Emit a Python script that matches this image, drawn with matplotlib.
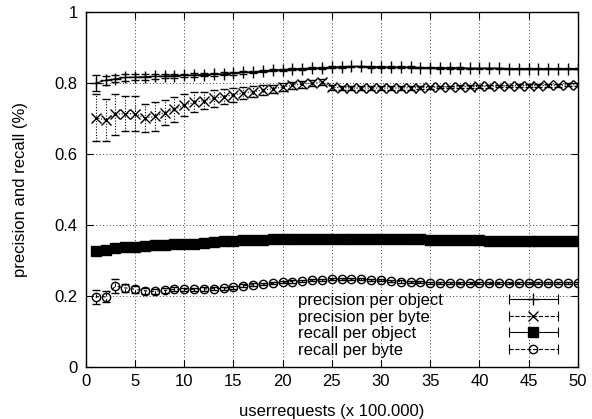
#precision and recall against number of user requests, gnuplot look
import matplotlib
matplotlib.use('Agg')
import matplotlib.pyplot as plt
from matplotlib.lines import Line2D
from matplotlib.legend_handler import HandlerBase

plt.rcParams['font.family'] = ['Liberation Sans', 'DejaVu Sans']

requests = list(range(1, 51))

prec_object = [0.800, 0.808, 0.812, 0.816, 0.817, 0.818, 0.819, 0.820, 0.821, 0.822,
               0.823, 0.824, 0.825, 0.826, 0.828, 0.830, 0.832, 0.834, 0.836, 0.838,
               0.840, 0.841, 0.842, 0.843, 0.845, 0.846, 0.847, 0.847, 0.846, 0.846,
               0.845, 0.845, 0.845, 0.844, 0.844, 0.843, 0.843, 0.843, 0.842, 0.842,
               0.842, 0.842, 0.841, 0.841, 0.841, 0.841, 0.841, 0.841, 0.841, 0.841]
prec_object_err = [0.022, 0.012, 0.010, 0.009, 0.008, 0.008, 0.007, 0.006, 0.006, 0.005,
                   0.005, 0.005, 0.004, 0.004, 0.004, 0.004, 0.003, 0.003, 0.003, 0.003,
                   0.003, 0.003, 0.003, 0.003, 0.003, 0.002, 0.002, 0.002, 0.002, 0.002,
                   0.002, 0.002, 0.002, 0.002, 0.002, 0.002, 0.002, 0.002, 0.002, 0.002,
                   0.002, 0.002, 0.002, 0.002, 0.002, 0.002, 0.002, 0.002, 0.002, 0.002]

prec_byte = [0.703, 0.696, 0.712, 0.714, 0.714, 0.702, 0.706, 0.717, 0.726, 0.738,
             0.746, 0.751, 0.757, 0.762, 0.767, 0.772, 0.776, 0.781, 0.784, 0.789,
             0.794, 0.797, 0.800, 0.804, 0.788, 0.787, 0.786, 0.786, 0.786, 0.786,
             0.786, 0.786, 0.787, 0.787, 0.788, 0.789, 0.789, 0.790, 0.790, 0.791,
             0.791, 0.792, 0.792, 0.793, 0.793, 0.793, 0.794, 0.794, 0.795, 0.795]
prec_byte_err = [0.065, 0.058, 0.058, 0.050, 0.050, 0.040, 0.040, 0.035, 0.035, 0.030,
                 0.028, 0.025, 0.025, 0.022, 0.020, 0.018, 0.016, 0.014, 0.012, 0.011,
                 0.010, 0.010, 0.009, 0.009, 0.006, 0.006, 0.006, 0.005, 0.005, 0.005,
                 0.005, 0.005, 0.005, 0.004, 0.004, 0.004, 0.004, 0.004, 0.004, 0.004,
                 0.004, 0.004, 0.004, 0.004, 0.004, 0.004, 0.004, 0.004, 0.004, 0.004]

rec_object = [0.327, 0.330, 0.336, 0.339, 0.339, 0.342, 0.344, 0.344, 0.346, 0.347,
              0.348, 0.349, 0.351, 0.354, 0.355, 0.357, 0.358, 0.359, 0.360, 0.361,
              0.362, 0.362, 0.362, 0.362, 0.362, 0.362, 0.362, 0.362, 0.362, 0.361,
              0.361, 0.361, 0.360, 0.360, 0.359, 0.359, 0.358, 0.358, 0.357, 0.357,
              0.356, 0.356, 0.356, 0.355, 0.355, 0.355, 0.355, 0.355, 0.355, 0.355]
rec_object_err = [0.010, 0.006, 0.005, 0.004, 0.004, 0.003, 0.003, 0.003, 0.003, 0.003,
                  0.002, 0.002, 0.002, 0.002, 0.002, 0.002, 0.002, 0.002, 0.002, 0.002,
                  0.002, 0.002, 0.002, 0.002, 0.002, 0.002, 0.002, 0.002, 0.002, 0.002,
                  0.002, 0.002, 0.002, 0.002, 0.002, 0.002, 0.002, 0.002, 0.002, 0.002,
                  0.002, 0.002, 0.002, 0.002, 0.002, 0.002, 0.002, 0.002, 0.002, 0.002]

rec_byte = [0.198, 0.198, 0.228, 0.223, 0.219, 0.215, 0.213, 0.216, 0.219, 0.219,
            0.219, 0.220, 0.221, 0.222, 0.225, 0.229, 0.232, 0.234, 0.236, 0.239,
            0.241, 0.243, 0.245, 0.246, 0.247, 0.248, 0.248, 0.247, 0.246, 0.245,
            0.243, 0.241, 0.240, 0.239, 0.238, 0.237, 0.237, 0.236, 0.236, 0.236,
            0.236, 0.236, 0.236, 0.236, 0.236, 0.237, 0.237, 0.237, 0.237, 0.238]
rec_byte_err = [0.020, 0.015, 0.020, 0.012, 0.010, 0.008, 0.007, 0.006, 0.006, 0.005,
                0.005, 0.005, 0.004, 0.004, 0.004, 0.004, 0.004, 0.003, 0.003, 0.003,
                0.003, 0.003, 0.003, 0.003, 0.003, 0.003, 0.003, 0.003, 0.003, 0.003,
                0.003, 0.003, 0.003, 0.003, 0.003, 0.003, 0.003, 0.003, 0.003, 0.003,
                0.003, 0.003, 0.003, 0.003, 0.003, 0.003, 0.003, 0.003, 0.003, 0.003]

series = [
    ('precision per object', prec_object, prec_object_err, '-', '+', 'black', 8),
    ('precision per byte', prec_byte, prec_byte_err, (0, (1, 1.5)), 'x', 'black', 7),
    ('recall per object', rec_object, rec_object_err, '-', 's', 'black', 6.5),
    ('recall per byte', rec_byte, rec_byte_err, (0, (3, 3)), 'o', 'none', 6),
]
FS = 12


class GnuplotKey(HandlerBase):
    #line with end ticks and the point in the middle, like gnuplot errorbar keys
    def create_artists(self, legend, orig, xd, yd, w, h, fontsize, trans):
        x0 = -xd
        y = h / 2 - yd
        line = Line2D([x0, x0 + w], [y, y], color='black', lw=0.8,
                      ls=orig.get_linestyle())
        caps = Line2D([x0, x0 + w], [y, y], ls='none', marker='|', ms=7,
                      mew=0.8, color='black')
        mark = Line2D([x0 + w / 2], [y], ls='none', marker=orig.get_marker(),
                      ms=orig.get_markersize(), mew=orig.get_markeredgewidth(),
                      mfc=orig.get_markerfacecolor(), mec='black')
        for a in (line, caps, mark):
            a.set_transform(trans)
        return [line, caps, mark]


fig, ax = plt.subplots(figsize=(5.92, 4.19), dpi=100)
fig.subplots_adjust(left=0.145, right=0.976, bottom=0.124, top=0.971)

handles = []
for label, vals, errs, ls, mk, fc, ms in series:
    eb = ax.errorbar(requests, vals, yerr=errs, color='black', lw=0.8, ls=ls,
                     marker=mk, ms=ms, mfc=fc, mec='black', mew=1.0,
                     capsize=3, capthick=0.8, elinewidth=0.8, label=label)
    eb[2][0].set_linestyle(ls)
    handles.append(eb[0])

ax.set_xlim(0, 50)
ax.set_ylim(0, 1)
ax.set_xticks(range(0, 51, 5))
ax.set_yticks([0, 0.2, 0.4, 0.6, 0.8, 1])
ax.set_yticklabels(['0', '0.2', '0.4', '0.6', '0.8', '1'])
ax.grid(True, color='black', ls=(0, (1, 3)), lw=0.6)
ax.tick_params(direction='in', top=True, right=True, length=5, width=0.8,
               labelsize=FS)
ax.tick_params(axis='x', pad=5)
ax.tick_params(axis='y', pad=6)
for s in ax.spines.values():
    s.set_linewidth(1.0)

ax.set_xlabel('userrequests (x 100.000)', fontsize=FS, labelpad=11)
ax.set_ylabel('precision and recall (%)', fontsize=FS, labelpad=19)

leg = ax.legend(handles, [s[0] for s in series], handler_map={Line2D: GnuplotKey()},
                loc='lower right', bbox_to_anchor=(0.986, -0.012), frameon=False,
                markerfirst=False, handlelength=2.9, handletextpad=4.0,
                labelspacing=0.1, fontsize=FS, borderpad=0.3)

#gnuplot keeps the key text left aligned, shift the shorter rows
fig.canvas.draw()
widths = [t.get_window_extent().width for t in leg.get_texts()]
col = leg._legend_handle_box.get_children()[0]
col.align = 'left'
for row, w in zip(col.get_children(), widths):
    row.sep += (max(widths) - w) * 72 / fig.dpi

plt.savefig('out.png', dpi=100)
